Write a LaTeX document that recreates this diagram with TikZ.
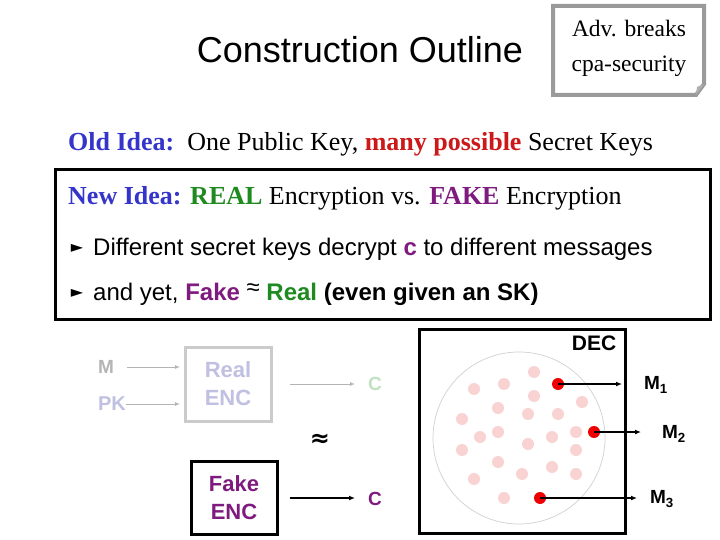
\documentclass[tikz,border=0pt]{standalone}
\usepackage{fontspec}
\setmainfont{Liberation Serif}
\setsansfont{Liberation Sans}
\newfontfamily\symfont{DejaVu Sans}
\usetikzlibrary{arrows.meta}
\definecolor{oblue}{HTML}{3535CC}
\definecolor{ored}{HTML}{CC1818}
\definecolor{ogreen}{HTML}{1F8A1F}
\definecolor{opurple}{HTML}{7F1A7F}
\definecolor{lav}{HTML}{C0C0E2}
\definecolor{lgreen}{HTML}{C2E0C2}
\definecolor{lgray}{HTML}{B4B4B4}
\definecolor{pinkdot}{HTML}{F9D2D2}
\definecolor{reddot}{HTML}{EE0000}
\definecolor{notegray}{HTML}{9A9A9A}
\tikzset{
  pdot/.style={circle, fill=pinkdot, inner sep=0pt, minimum size=12pt},
  rdot/.style={circle, fill=reddot, inner sep=0pt, minimum size=12pt},
  blackarr/.style={-{Latex[length=6pt,width=5pt]}, line width=1.4pt},
  grayarr/.style={-{Latex[length=5pt,width=4pt]}, line width=1pt, draw=lgray},
  mlabel/.style={font=\sffamily\bfseries\fontsize{19}{22}\selectfont},
  bullettext/.style={anchor=base west, font=\sffamily\fontsize{24}{28}\selectfont, inner sep=0pt},
  bulletsym/.style={font=\symfont\fontsize{16}{18}\selectfont, inner sep=0pt},
  serifline/.style={anchor=base west, font=\fontsize{26}{30}\selectfont, inner sep=0pt},
  encbox/.style={line width=3pt, inner sep=0pt, align=center, font=\sffamily\bfseries\fontsize{22}{28}\selectfont},
}
\begin{document}
\begin{tikzpicture}[x=1pt,y=-1pt]
\useasboundingbox (0,0) rectangle (720,540);
\fill[white] (0,0) rectangle (720,540);

% title
\node[anchor=base, font=\sffamily\fontsize{36}{40}\selectfont, inner sep=0pt] (title) at (360,63) {Construction Outline};

% note box with folded corner
\draw[notegray, line width=4pt, line join=miter] (553,6) -- (704,6) -- (704,84) -- (696,95) -- (553,95) -- cycle;
\fill[notegray!80] (696,95) -- (704,84) -- (697,87) -- cycle;
\node[align=center, font=\fontsize{23.5}{35}\selectfont, inner sep=0pt] (note) at (629,48) {Adv. breaks\\cpa-security};

% old idea
\node[serifline] (old) at (68,151)
  {\textcolor{oblue}{\textbf{Old Idea:}}\ \ One Public Key, \textcolor{ored}{\textbf{many possible}} Secret Keys};

% new idea box
\draw[line width=3pt] (55,170) rectangle (710,319);
\node[serifline] (new) at (68,205)
  {\textcolor{oblue}{\textbf{New Idea:}} \textcolor{ogreen}{\textbf{REAL}} Encryption vs. \textcolor{opurple}{\textbf{FAKE}} Encryption};

\node[bulletsym] (b1) at (77,248) {►};
\node[bullettext] (t1) at (93,255) {Different secret keys decrypt \textcolor{opurple}{\textbf{c}} to different messages};
\node[bulletsym] (b2) at (77,293) {►};
\node[bullettext] (t2) at (93,300) {and yet, \textcolor{opurple}{\textbf{Fake}} \raisebox{5pt}{≈} \textcolor{ogreen}{\textbf{Real}} \textbf{(even given an SK)}};

% left: real encryption (faded)
\node[font=\sffamily\bfseries\fontsize{19}{22}\selectfont, text=lgray, inner sep=0pt] (M) at (106,367) {M};
\node[font=\sffamily\bfseries\fontsize{20}{22}\selectfont, text=lav, inner sep=0pt] (PK) at (112,404) {PK};
\node[encbox, draw=lgray!70, minimum width=86pt, minimum height=74pt, text=lav] (real) at (228,384) {Real\\ENC};
\coordinate (Min) at (180,367);
\coordinate (PKin) at (180,404);
\draw[grayarr] (127,367) -- (Min);
\draw[grayarr] (PK.east) -- (PKin);
\node[font=\sffamily\bfseries\fontsize{19}{22}\selectfont, text=lgreen, inner sep=0pt] (c1) at (375,384) {C};
\draw[grayarr, shorten <=17pt, shorten >=20pt] (real.east) -- (real.east -| c1.center);

\node[font=\symfont\bfseries\fontsize{24}{26}\selectfont, inner sep=0pt] (approx) at (320,440) {≈};

% fake encryption
\node[encbox, draw=black, minimum width=86pt, minimum height=73pt, text=opurple] (fake) at (234,498) {Fake\\ENC};
\node[font=\sffamily\bfseries\fontsize{19}{22}\selectfont, text=opurple, inner sep=0pt] (c2) at (375,499) {C};
\draw[blackarr, line width=1.2pt, shorten <=11pt, shorten >=20pt] (fake.east) -- (fake.east -| c2.center);

% DEC box
\draw[line width=3pt] (419,329) rectangle (625,533);
\node[font=\sffamily\bfseries\fontsize{21}{24}\selectfont, inner sep=0pt] (dec) at (594,343) {DEC};
\draw[black!18, line width=0.7pt] (519,438) circle (86);

\foreach \x/\y in {534/372, 504/384, 474/389, 534/396, 582/402, 498/408, 528/414, 558/414,
  462/419, 498/432, 480/437, 576/432, 552/437, 528/444, 462/450, 576/450, 498/462,
  552/467, 522/474, 576/474, 474/479, 504/498}
  \node[pdot] at (\x,\y) {};

\node[rdot] (d1) at (558,384) {};
\node[rdot] (d2) at (594,432) {};
\node[rdot] (d3) at (540,498) {};
\coordinate (e1) at (622,384);
\coordinate (e2) at (641,432);
\coordinate (e3) at (637,498);
\draw[blackarr] (d1.center) -- (e1);
\draw[blackarr] (d2.center) -- (e2);
\draw[blackarr] (d3.center) -- (e3);
\node[mlabel] (m1) at (656,385) {M\textsubscript{1}};
\node[mlabel] (m2) at (674,434) {M\textsubscript{2}};
\node[mlabel] (m3) at (662,499) {M\textsubscript{3}};
\end{tikzpicture}
\end{document}
